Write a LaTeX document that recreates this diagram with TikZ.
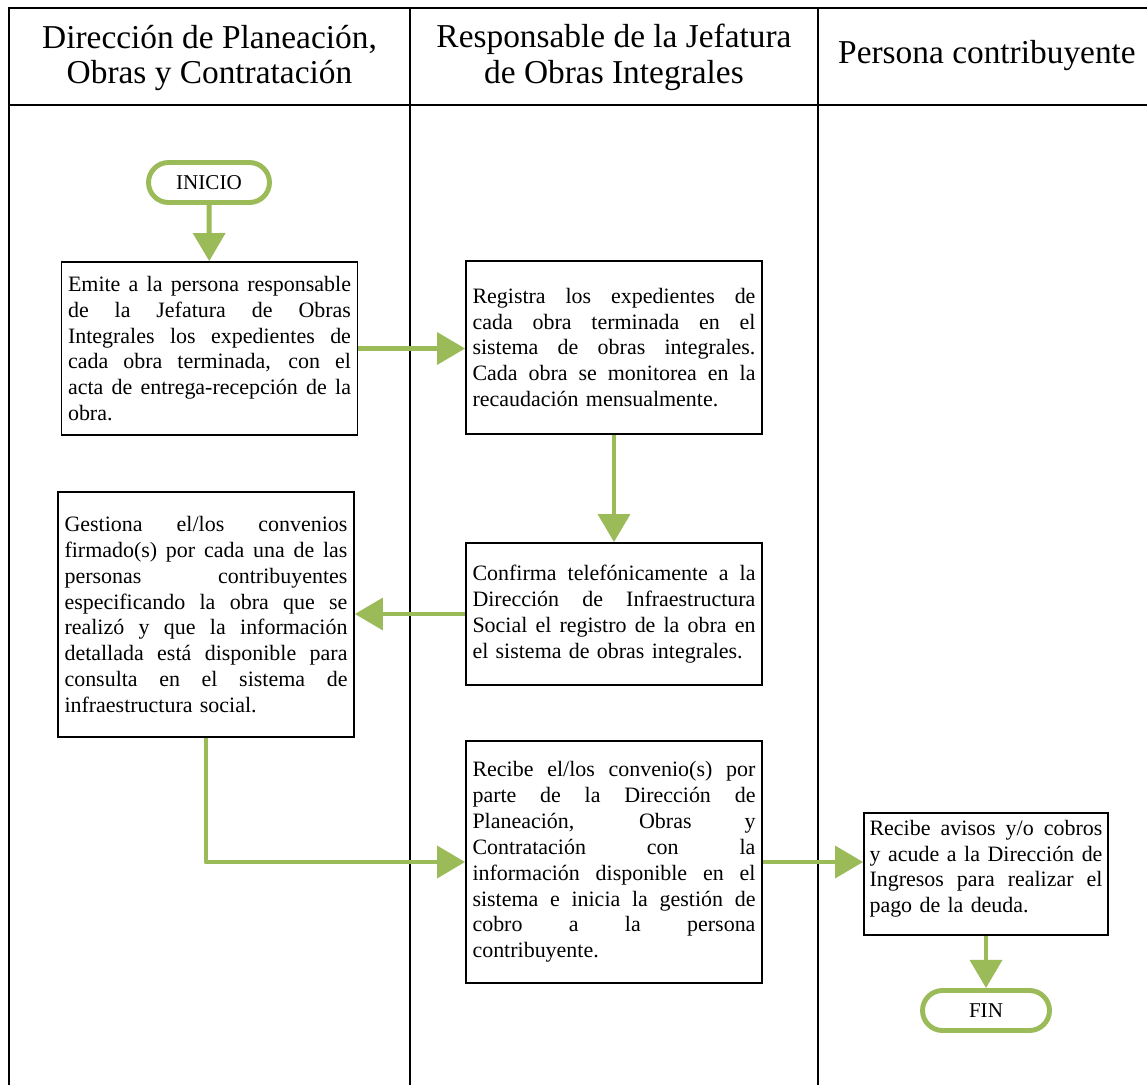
\documentclass[tikz,border=0pt]{standalone}
\usepackage{fontspec}
\setmainfont{Liberation Serif}
\usetikzlibrary{arrows.meta}
\definecolor{flowgreen}{HTML}{9BBB59}
% one justified line of a box
\newcommand{\jl}[2][5.66cm]{\leavevmode\hbox to #1{\spaceskip=\fontdimen2\font plus 1fil\relax #2}\\}

\begin{document}
\begin{tikzpicture}[x=0.02cm, y=-0.02cm, >={Triangle[length=16pt,width=18pt]},
  lane/.style={line width=1.1pt},
  head/.style={align=center, font=\fontsize{19}{20.4}\selectfont},
  proc/.style={draw, line width=1pt, text width=5.66cm, inner xsep=0.13cm, font=\fontsize{12.5}{14.74}\selectfont},
  term/.style={draw=flowgreen, line width=2.8pt, rounded corners=0.4cm, minimum width=2.42cm, minimum height=0.8cm, font=\fontsize{12}{14}\selectfont},
  flow/.style={->, draw=flowgreen, line width=2.8pt, line join=round}]
\useasboundingbox (0,0) rectangle (1147,1085);

\def\laneA{9}
\def\laneB{410}
\def\laneC{818}

% lanes
\draw[lane] (1147,8) -- (\laneA,8) -- (\laneA,1085);
\draw[lane] (\laneA,105) -- (1147,105);
\draw[lane] (\laneB,8) -- (\laneB,1085);
\draw[lane] (\laneC,8) -- (\laneC,1085);

\node[head] (dpoc) at (209.5,58) {Dirección de Planeación,\\Obras y Contratación};
\node[head] (rjoi) at (614,57) {Responsable de la Jefatura\\de Obras Integrales};
\node[head] (pcon) at (987,56) {Persona contribuyente};

% steps
\node[term] (inicio) at (209,182.5) {INICIO};
\node[proc, minimum height=3.46cm] (emite) at (209.5,348.5) {%
  \jl{Emite a la persona responsable}
  \jl{de la Jefatura de Obras}
  \jl{Integrales los expedientes de}
  \jl{cada obra terminada, con el}
  \jl{acta de entrega-recepción de la}
  obra.};
\node[proc, minimum height=3.46cm] (registra) at (614,347.5) {%
  \jl{Registra los expedientes de}
  \jl{cada obra terminada en el}
  \jl{sistema de obras integrales.}
  \jl{Cada obra se monitorea en la}
  recaudación mensualmente.};
\node[proc, minimum height=2.84cm] (confirma) at (614,614) {%
  \jl{Confirma telefónicamente a la}
  \jl{Dirección de Infraestructura}
  \jl{Social el registro de la obra en}
  el sistema de obras integrales.};
\node[proc, minimum height=4.9cm] (gestiona) at (206,614.5) {%
  \jl{Gestiona el/los convenios}
  \jl{firmado(s) por cada una de las}
  \jl{personas contribuyentes}
  \jl{especificando la obra que se}
  \jl{realizó y que la información}
  \jl{detallada está disponible para}
  \jl{consulta en el sistema de}
  infraestructura social.};
\node[proc, minimum height=4.84cm] (recibe) at (614,862) {%
  \jl{Recibe el/los convenio(s) por}
  \jl{parte de la Dirección de}
  \jl{Planeación, Obras y}
  \jl{Contratación con la}
  \jl{información disponible en el}
  \jl{sistema e inicia la gestión de}
  \jl{cobro a la persona}
  contribuyente.};
\node[proc, text width=4.66cm, inner xsep=0.11cm, minimum height=2.44cm] (avisos) at (986,874) {%
  \jl[4.66cm]{Recibe avisos y/o cobros}
  \jl[4.66cm]{y acude a la Dirección de}
  \jl[4.66cm]{Ingresos para realizar el}
  pago de la deuda.\par\kern6pt};
\node[term, minimum width=2.54cm] (fin) at (986,1010.5) {FIN};

% connectors
\draw[flow] (inicio) -- (emite);
\draw[flow] (emite.east) -- (emite.east -| registra.west);
\draw[flow] (registra) -- (confirma);
\draw[flow] (confirma.west) -- (confirma.west -| gestiona.east);
\draw[flow] (gestiona.south) |- (recibe.west);
\draw[flow] (recibe.east) -- (recibe.east -| avisos.west);
\draw[flow] (avisos) -- (fin);
\end{tikzpicture}
\end{document}
